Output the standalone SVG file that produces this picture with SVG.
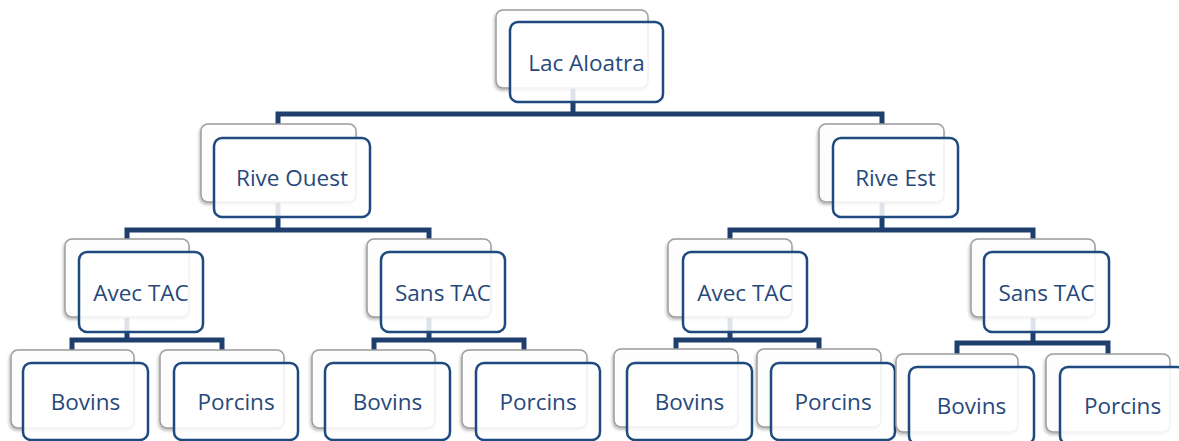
<svg xmlns="http://www.w3.org/2000/svg" width="1179" height="441" viewBox="0 0 1179 441">
  <style>
    .back { fill: #fdfdfd; stroke: #9c9c9c; stroke-width: 1.5; filter: url(#shadow); }
    .front { fill: #ffffff; fill-opacity: 0.86; stroke: #1f4a80; stroke-width: 2.5; }
    .lbl { font-family: "Open Sans", "Liberation Sans", sans-serif; font-size: 22.5px; fill: #27497a; text-anchor: middle; }
    .wire { fill: none; stroke: #1e3f6e; stroke-width: 5; stroke-linejoin: miter; stroke-linecap: square; }
  </style>
  <defs>
    <filter id="shadow" x="-10%" y="-10%" width="120%" height="130%">
      <feDropShadow dx="-1" dy="2" stdDeviation="1.6" flood-color="#000000" flood-opacity="0.28"/>
    </filter>
  </defs>
  <rect width="1179" height="441" fill="#ffffff"/>

  <!-- tree connectors, drawn beneath the boxes -->
  <g id="connectors" class="wire">
    <path d="M573 88 V114 M278 124 V114 H882 V124"/>
    <path d="M278 202 V230 M127 239 V230 H429 V239"/>
    <path d="M882 202 V230 M730 239 V230 H1033 V239"/>
    <path d="M127 317 V340 M72 350 V340 H222 V350"/>
    <path d="M429 317 V340 M374 350 V340 H524 V350"/>
    <path d="M730 317 V340 M676 349 V340 H819 V349"/>
    <path d="M1033 317 V343 M957 354 V343 H1108 V354"/>
  </g>

  <g id="lac-aloatra">
    <rect class="back" x="496" y="10" width="152" height="78" rx="7"/>
    <rect class="front" x="510" y="22" width="153" height="80" rx="8"/>
    <text class="lbl" x="586.5" y="70.5">Lac Aloatra</text>
  </g>

  <g id="rive-ouest">
    <rect class="back" x="201" y="124" width="155" height="78" rx="7"/>
    <rect class="front" x="214" y="138" width="156" height="79" rx="8"/>
    <text class="lbl" x="292" y="186">Rive Ouest</text>
  </g>

  <g id="rive-est">
    <rect class="back" x="819" y="124" width="125" height="78" rx="7"/>
    <rect class="front" x="833" y="138" width="125" height="79" rx="8"/>
    <text class="lbl" x="895.5" y="186">Rive Est</text>
  </g>

  <g id="ouest-avec-tac">
    <rect class="back" x="65" y="239" width="124" height="78" rx="7"/>
    <rect class="front" x="79" y="252" width="124" height="80" rx="8"/>
    <text class="lbl" x="141" y="300.5">Avec TAC</text>
  </g>

  <g id="ouest-sans-tac">
    <rect class="back" x="367" y="239" width="124" height="78" rx="7"/>
    <rect class="front" x="381" y="252" width="124" height="80" rx="8"/>
    <text class="lbl" x="443" y="300.5">Sans TAC</text>
  </g>

  <g id="est-avec-tac">
    <rect class="back" x="668" y="239" width="124" height="78" rx="7"/>
    <rect class="front" x="683" y="252" width="124" height="80" rx="8"/>
    <text class="lbl" x="745" y="300.5">Avec TAC</text>
  </g>

  <g id="est-sans-tac">
    <rect class="back" x="971" y="239" width="124" height="78" rx="7"/>
    <rect class="front" x="984" y="252" width="125" height="80" rx="8"/>
    <text class="lbl" x="1046.5" y="300.5">Sans TAC</text>
  </g>

  <g id="ouest-avec-bovins">
    <rect class="back" x="11" y="350" width="123" height="78" rx="7"/>
    <rect class="front" x="23" y="363" width="125" height="77" rx="8"/>
    <text class="lbl" x="85.5" y="410">Bovins</text>
  </g>

  <g id="ouest-avec-porcins">
    <rect class="back" x="160" y="350" width="124" height="78" rx="7"/>
    <rect class="front" x="174" y="363" width="124" height="77" rx="8"/>
    <text class="lbl" x="236" y="410">Porcins</text>
  </g>

  <g id="ouest-sans-bovins">
    <rect class="back" x="312" y="350" width="123" height="78" rx="7"/>
    <rect class="front" x="325" y="363" width="125" height="77" rx="8"/>
    <text class="lbl" x="387.5" y="410">Bovins</text>
  </g>

  <g id="ouest-sans-porcins">
    <rect class="back" x="462" y="350" width="125" height="78" rx="7"/>
    <rect class="front" x="476" y="363" width="124" height="77" rx="8"/>
    <text class="lbl" x="538" y="410">Porcins</text>
  </g>

  <g id="est-avec-bovins">
    <rect class="back" x="614" y="349" width="124" height="78" rx="7"/>
    <rect class="front" x="627" y="363" width="125" height="77" rx="8"/>
    <text class="lbl" x="689.5" y="410">Bovins</text>
  </g>

  <g id="est-avec-porcins">
    <rect class="back" x="757" y="349" width="124" height="78" rx="7"/>
    <rect class="front" x="771" y="363" width="124" height="77" rx="8"/>
    <text class="lbl" x="833" y="410">Porcins</text>
  </g>

  <g id="est-sans-bovins">
    <rect class="back" x="896" y="354" width="122" height="78" rx="7"/>
    <rect class="front" x="909" y="367" width="125" height="77" rx="8"/>
    <text class="lbl" x="971.5" y="414">Bovins</text>
  </g>

  <g id="est-sans-porcins">
    <rect class="back" x="1046" y="354" width="124" height="78" rx="7"/>
    <rect class="front" x="1060" y="367" width="125" height="77" rx="8"/>
    <text class="lbl" x="1122.5" y="414">Porcins</text>
  </g>
</svg>
